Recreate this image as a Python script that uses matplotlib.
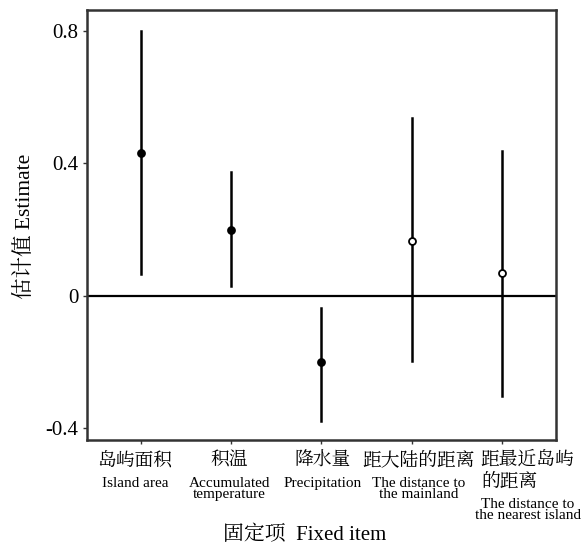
import matplotlib
matplotlib.use("Agg")
import matplotlib.pyplot as plt

cn_labels = ["岛屿面积", "积温", "降水量", "距大陆的距离", "距最近岛屿\n的距离"]
en_labels = ["Island area", "Accumulated\ntemperature", "Precipitation",
             "The distance to\nthe mainland", "The distance to\nthe nearest island"]
estimate = [0.429, 0.199, -0.202, 0.166, 0.069]
lower = [0.066, 0.030, -0.378, -0.196, -0.302]
upper = [0.800, 0.372, -0.036, 0.535, 0.435]
significant = [True, True, True, False, False]
yticks = [-0.4, 0, 0.4, 0.8]
ytick_labels = ["-0.4", "0", "0.4", "0.8"]

# layout: horizontal nudge of each category label (pixels)
label_dx = [-6, -2, 1, 7, 26]

fam = ["Liberation Serif", "Noto Serif CJK SC", "Noto Sans CJK SC"]
plt.rcParams["font.family"] = fam

fig = plt.figure(figsize=(5.82, 5.46), dpi=100)
ax = fig.add_axes([0.1495, 0.1941, 0.8055, 0.7876])

x = list(range(1, len(estimate) + 1))
ax.axhline(0, color="black", lw=1.6, zorder=1)
for xi, e, lo, hi, sig in zip(x, estimate, lower, upper, significant):
    ax.plot([xi, xi], [lo, hi], color="black", lw=1.8, zorder=2)
    ax.plot(xi, e, "o", ms=5, mfc="black" if sig else "white", mec="black", mew=1.3, zorder=3)

ax.set_xlim(0.4, 5.6)
ax.set_ylim(-0.436, 0.862)
ax.set_yticks(yticks)
ax.set_yticklabels(ytick_labels, fontsize=15)
ax.set_xticks(x)
ax.set_xticklabels([""] * len(x))
ax.tick_params(axis="both", direction="out", length=3, width=1, color="#333333", pad=3)
for s in ax.spines.values():
    s.set_linewidth(1.8)
    s.set_color("#333333")

px = 72 / 100  # points per pixel
for xi, cn, en, dx in zip(x, cn_labels, en_labels, label_dx):
    ncn = cn.count("\n") + 1
    ax.annotate(cn, xy=(xi, 0), xycoords=("data", "axes fraction"),
                xytext=(dx * px, -11 * px), textcoords="offset points",
                ha="center", va="top", multialignment="left",
                fontsize=13.5, linespacing=1.32)
    ax.annotate(en, xy=(xi, 0), xycoords=("data", "axes fraction"),
                xytext=(dx * px, (-37 - 21 * (ncn - 1)) * px), textcoords="offset points",
                ha="center", va="top", fontsize=11, linespacing=0.8)

fig.text(0.043, 0.586, "估计值 Estimate", rotation=90, ha="center", va="center", fontsize=15.5)
fig.text(0.524, 0.021, "固定项  Fixed item", ha="center", va="center", fontsize=15)

fig.savefig("out.png", dpi=100)
